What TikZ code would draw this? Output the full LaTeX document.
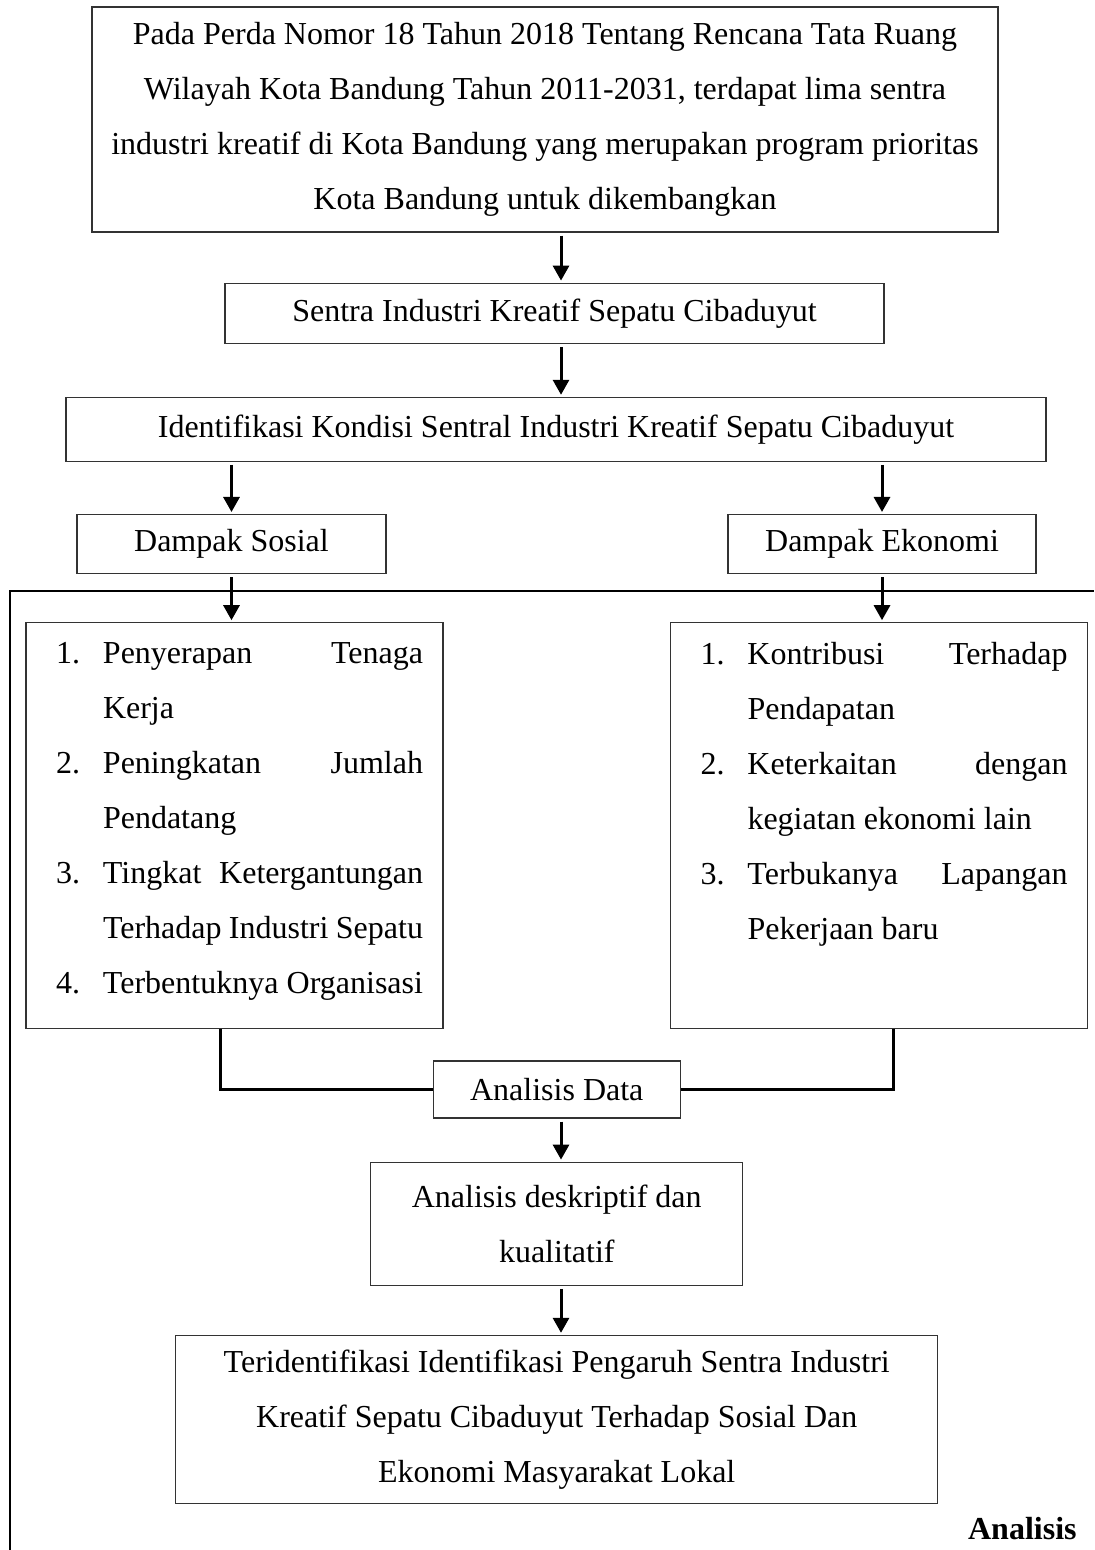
\documentclass[tikz,border=0pt]{standalone}
\usepackage{fontspec}
\setmainfont{Liberation Serif}
\usetikzlibrary{arrows.meta,positioning,calc}
\newcommand{\bodyfs}{\fontsize{16pt}{27.5pt}\selectfont}
% numbered list lines: number, justified first line, continuation
\newcommand{\lnum}[2]{\noindent\hspace*{15pt}\makebox[23.5pt][l]{#1}\makebox[160pt][s]{#2}\par}
\newcommand{\lfull}[1]{\noindent\hspace*{38.5pt}\makebox[160pt][s]{#1}\par}
\newcommand{\lcont}[1]{\noindent\hspace*{38.5pt}#1\par}
\tikzset{
  box/.style    ={draw=black!80,line width=0.6pt,align=center,font=\bodyfs,
                  inner sep=0pt},
  listbox/.style={draw=black!80,line width=0.6pt,font=\bodyfs,inner sep=0pt},
  ln/.style     ={line width=1.5pt},
  ar/.style     ={ln,-{Triangle[width=8pt,length=7.5pt]},shorten >=1pt,shorten <=1.5pt},
  frame/.style  ={line width=1.2pt},
}

\begin{document}
\begin{tikzpicture}[x=0.5pt,y=-0.5pt]
\useasboundingbox (0,0) rectangle (1094,1550);
\coordinate (spine) at (561,0);
\coordinate (colL) at (231.5,0);
\coordinate (colR) at (882,0);
% outer frame
\draw[frame] (10,1550) -- (10,591) -- (1094,591);
\node[box,minimum width=453pt,minimum height=112.5pt] (PERDA) at (545,119.5)
  {Pada Perda Nomor 18 Tahun 2018 Tentang Rencana Tata Ruang\\
   Wilayah Kota Bandung Tahun 2011-2031, terdapat lima sentra\\
   industri kreatif di Kota Bandung yang merupakan program prioritas\\
   Kota Bandung untuk dikembangkan};
\node[box,minimum width=329.5pt,minimum height=30pt,below=25pt of PERDA,xshift=4.75pt] (SENTRA)
  {Sentra Industri Kreatif Sepatu Cibaduyut};
\node[box,minimum width=490pt,minimum height=32pt,below=26.5pt of SENTRA,xshift=0.75pt] (IDENT)
  {Identifikasi Kondisi Sentral Industri Kreatif Sepatu Cibaduyut};
\coordinate (sosTop) at (IDENT.south -| colL);
\coordinate (ekoTop) at (IDENT.south -| colR);
\node[box,minimum width=154.5pt,minimum height=29.5pt,below=26pt of sosTop] (SOS) {Dampak Sosial};
\node[box,minimum width=154pt,minimum height=29.5pt,below=26pt of ekoTop] (EKO) {Dampak Ekonomi};
\node[listbox,below=24pt of SOS,xshift=1.5pt] (LSOS)
  {\parbox[c][203pt][t]{208.5pt}{\vspace*{9.6pt}%
   \lnum{1.}{Penyerapan Tenaga}
   \lcont{Kerja}
   \lnum{2.}{Peningkatan Jumlah}
   \lcont{Pendatang}
   \lnum{3.}{Tingkat Ketergantungan}
   \lfull{Terhadap Industri Sepatu}
   \lnum{4.}{Terbentuknya Organisasi}}};
\node[listbox,below=24pt of EKO,xshift=-1.5pt] (LEKO)
  {\parbox[c][203pt][t]{208.5pt}{\vspace*{9.6pt}%
   \lnum{1.}{Kontribusi Terhadap}
   \lcont{Pendapatan}
   \lnum{2.}{Keterkaitan dengan}
   \lcont{kegiatan ekonomi lain}
   \lnum{3.}{Terbukanya Lapangan}
   \lcont{Pekerjaan baru}}};
\node[box,minimum width=123.5pt,minimum height=28.5pt,below=15.5pt of $(LSOS.south)!0.5!(LEKO.south)$] (ANDATA)
  {Analisis Data};
\node[box,minimum width=186pt,minimum height=61.5pt,below=21.5pt of ANDATA] (DESK)
  {Analisis deskriptif dan\\kualitatif};
\node[box,minimum width=381pt,minimum height=84pt,below=24.5pt of DESK] (HASIL)
  {Teridentifikasi Identifikasi Pengaruh Sentra Industri\\
   Kreatif Sepatu Cibaduyut Terhadap Sosial Dan\\
   Ekonomi Masyarakat Lokal};
\node[anchor=base east,font=\bodyfs\bfseries,inner sep=0pt] (ANBOLD) at (1077,1539) {Analisis};
% arrows
\draw[ar] (PERDA.south -| spine) -- (SENTRA.north -| spine);
\draw[ar] (SENTRA.south -| spine) -- (IDENT.north -| spine);
\draw[ar] (IDENT.south -| SOS.north) -- (SOS.north);
\draw[ar] (IDENT.south -| EKO.north) -- (EKO.north);
\draw[ar] (SOS.south) -- (SOS.south |- LSOS.north);
\draw[ar] (EKO.south) -- (EKO.south |- LEKO.north);
\draw[ln] ([xshift=-7.25pt]LSOS.south) |- (ANDATA.west);
\draw[ln] ([xshift=7pt]LEKO.south) |- (ANDATA.east);
\draw[ar] (ANDATA.south -| spine) -- (DESK.north -| spine);
\draw[ar] (DESK.south -| spine) -- (HASIL.north -| spine);
\end{tikzpicture}
\end{document}
